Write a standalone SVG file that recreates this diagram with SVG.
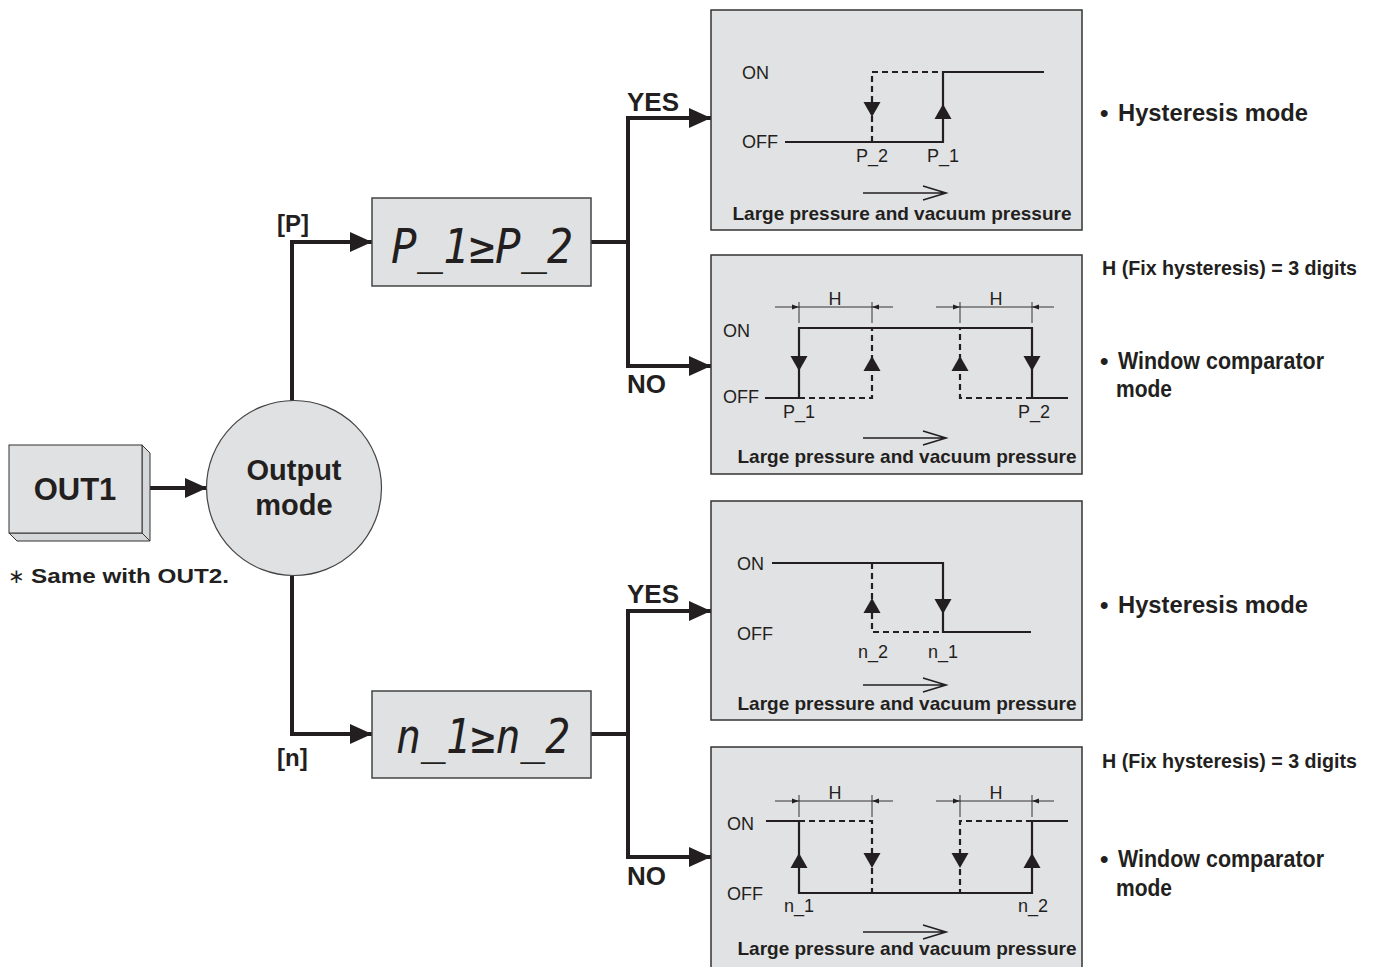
<svg xmlns="http://www.w3.org/2000/svg" width="1377" height="967" viewBox="0 0 1377 967">
<style>
text{font-family:"Liberation Sans",Arial,Helvetica,sans-serif;fill:#231f20}
.b{font-weight:bold}
.conn{fill:none;stroke:#231f20;stroke-width:4}
.panel{fill:#e1e2e4;stroke:#333;stroke-width:1.5}
.box{fill:#e0e1e3;stroke:#444;stroke-width:1.5}
.sig{fill:none;stroke:#231f20;stroke-width:2.2}
.dash{fill:none;stroke:#231f20;stroke-width:2.2;stroke-dasharray:6 4}
.dim{fill:none;stroke:#231f20;stroke-width:0.9}
.thin{fill:none;stroke:#231f20;stroke-width:1.6}
.tri{fill:#231f20}
.lbl{font-size:18px}
.mid{text-anchor:middle}
.cap{font-size:19px;font-weight:bold;text-anchor:middle}
.br{font-size:24px;font-weight:bold}
.side{font-size:24px;font-weight:bold}
.seg{font-family:"DejaVu Sans Mono",monospace;font-style:italic;font-size:48px;text-anchor:middle}
</style>
<defs>
<marker id="ah" markerUnits="userSpaceOnUse" markerWidth="22" markerHeight="20" refX="22" refY="10" orient="auto">
<path d="M0,0 L22,10 L0,20 z" fill="#231f20"/>
</marker>
<path id="triUp" d="M0,0 L8.5,15 L-8.5,15 z"/>
<path id="triDown" d="M0,0 L8.5,-15 L-8.5,-15 z"/>
<path id="dimR" d="M0,0 L-7,-2.5 L-7,2.5 z"/>
<path id="dimL" d="M0,0 L7,-2.5 L7,2.5 z"/>
</defs>

<!-- connectors -->
<g id="connectors">
<path class="conn" d="M150,488 L207,488" marker-end="url(#ah)"/>
<path class="conn" d="M292,401 L292,242 L372,242" marker-end="url(#ah)"/>
<path class="conn" d="M292,576 L292,734 L372,734" marker-end="url(#ah)"/>
<path class="conn" d="M591,242 L628,242"/>
<path class="conn" d="M628,366 L628,118 L711,118" marker-end="url(#ah)"/>
<path class="conn" d="M628,242 L628,366 L711,366" marker-end="url(#ah)"/>
<path class="conn" d="M591,734 L628,734"/>
<path class="conn" d="M628,857 L628,611 L711,611" marker-end="url(#ah)"/>
<path class="conn" d="M628,734 L628,857 L711,857" marker-end="url(#ah)"/>
</g>

<!-- OUT1 -->
<g id="out1">
<polygon points="142,445 150,453 150,541 142,533" fill="#d6d7d9" stroke="#333" stroke-width="1"/>
<polygon points="9,533 142,533 150,541 17,541" fill="#d6d7d9" stroke="#333" stroke-width="1"/>
<rect x="9" y="445" width="133" height="88" fill="#e0e1e3" stroke="#333" stroke-width="1"/>
<text x="75" y="500" class="b mid" font-size="31">OUT1</text>
</g>
<g id="note">
<text x="8" y="583" font-size="20">∗</text>
<text x="31" y="583" class="b" font-size="21" textLength="198" lengthAdjust="spacingAndGlyphs">Same with OUT2.</text>
</g>

<!-- Output mode -->
<g id="output-mode">
<circle cx="294" cy="488" r="87.5" fill="#e0e1e3" stroke="#444" stroke-width="1.2"/>
<text x="294" y="480" class="b mid" font-size="29">Output</text>
<text x="294" y="515" class="b mid" font-size="29">mode</text>
</g>

<g id="label-p"><text x="277" y="232" class="br">[P]</text></g>
<g id="label-n"><text x="277" y="766" class="br">[n]</text></g>
<g id="label-yes1"><text x="627" y="111" class="b" font-size="26">YES</text></g>
<g id="label-no1"><text x="627" y="393" class="b" font-size="26">NO</text></g>
<g id="label-yes2"><text x="627" y="603" class="b" font-size="26">YES</text></g>
<g id="label-no2"><text x="627" y="885" class="b" font-size="26">NO</text></g>

<!-- display P -->
<g id="disp-p">
<rect x="372" y="198" width="219" height="88" class="box"/>
<text x="482" y="263" class="seg" textLength="182" lengthAdjust="spacingAndGlyphs">P_1≥P_2</text>
</g>
<!-- display n -->
<g id="disp-n">
<rect x="372" y="691" width="219" height="87" class="box"/>
<text x="483" y="753" class="seg" textLength="174" lengthAdjust="spacingAndGlyphs">n_1≥n_2</text>
</g>

<!-- Panel 1: P hysteresis -->
<g id="panel1">
<rect x="711" y="10" width="371" height="220" class="panel"/>
<text x="742" y="79" class="lbl">ON</text>
<text x="742" y="148" class="lbl">OFF</text>
<path class="sig" d="M785,142 L943,142 L943,72 L1044,72"/>
<path class="dash" d="M872,142 L872,72 L943,72"/>
<use href="#triUp" x="943" y="104" class="tri"/>
<use href="#triDown" x="872" y="117" class="tri"/>
<text x="872" y="162" class="lbl mid">P_2</text>
<text x="943" y="162" class="lbl mid">P_1</text>
<path class="thin" d="M863,193 L946,193 M923,186 L946,193 L923,200"/>
<text x="902" y="220" class="cap">Large pressure and vacuum pressure</text>
</g>

<!-- Panel 2: P window -->
<g id="panel2">
<rect x="711" y="255" width="371" height="219" class="panel"/>
<text x="723" y="337" class="lbl">ON</text>
<text x="723" y="403" class="lbl">OFF</text>
<path class="sig" d="M765,398 L799,398 L799,328 L1032,328 L1032,398 L1068,398"/>
<path class="dash" d="M799,398 L872,398 L872,328"/>
<path class="dash" d="M1032,398 L960,398 L960,328"/>
<use href="#triDown" x="799" y="371" class="tri"/>
<use href="#triDown" x="1032" y="371" class="tri"/>
<use href="#triUp" x="872" y="356" class="tri"/>
<use href="#triUp" x="960" y="356" class="tri"/>
<path class="dim" d="M775,307 L893,307 M799,302 L799,323 M872,302 L872,323 M936,307 L1054,307 M960,302 L960,323 M1032,302 L1032,323"/>
<use href="#dimR" x="799" y="307" class="tri"/>
<use href="#dimL" x="872" y="307" class="tri"/>
<use href="#dimR" x="960" y="307" class="tri"/>
<use href="#dimL" x="1032" y="307" class="tri"/>
<text x="835" y="305" class="lbl mid">H</text>
<text x="996" y="305" class="lbl mid">H</text>
<text x="799" y="418" class="lbl mid">P_1</text>
<text x="1034" y="418" class="lbl mid">P_2</text>
<path class="thin" d="M863,438 L946,438 M923,431 L946,438 L923,445"/>
<text x="907" y="463" class="cap">Large pressure and vacuum pressure</text>
</g>

<!-- Panel 3: n hysteresis -->
<g id="panel3">
<rect x="711" y="501" width="371" height="219" class="panel"/>
<text x="737" y="570" class="lbl">ON</text>
<text x="737" y="640" class="lbl">OFF</text>
<path class="sig" d="M772,563 L943,563 L943,632 L1031,632"/>
<path class="dash" d="M872,563 L872,632 L943,632"/>
<use href="#triDown" x="943" y="614" class="tri"/>
<use href="#triUp" x="872" y="598" class="tri"/>
<text x="873" y="658" class="lbl mid">n_2</text>
<text x="943" y="658" class="lbl mid">n_1</text>
<path class="thin" d="M863,685 L946,685 M923,678 L946,685 L923,692"/>
<text x="907" y="710" class="cap">Large pressure and vacuum pressure</text>
</g>

<!-- Panel 4: n window -->
<g id="panel4">
<rect x="711" y="747" width="371" height="222" class="panel"/>
<text x="727" y="830" class="lbl">ON</text>
<text x="727" y="900" class="lbl">OFF</text>
<path class="sig" d="M766,821 L799,821 L799,893 L1032,893 L1032,821 L1068,821"/>
<path class="dash" d="M799,821 L872,821 L872,893"/>
<path class="dash" d="M1032,821 L960,821 L960,893"/>
<use href="#triUp" x="799" y="853" class="tri"/>
<use href="#triUp" x="1032" y="853" class="tri"/>
<use href="#triDown" x="872" y="868" class="tri"/>
<use href="#triDown" x="960" y="868" class="tri"/>
<path class="dim" d="M775,801 L893,801 M799,795 L799,817 M872,795 L872,817 M936,801 L1054,801 M960,795 L960,817 M1032,795 L1032,817"/>
<use href="#dimR" x="799" y="801" class="tri"/>
<use href="#dimL" x="872" y="801" class="tri"/>
<use href="#dimR" x="960" y="801" class="tri"/>
<use href="#dimL" x="1032" y="801" class="tri"/>
<text x="835" y="799" class="lbl mid">H</text>
<text x="996" y="799" class="lbl mid">H</text>
<text x="799" y="912" class="lbl mid">n_1</text>
<text x="1033" y="912" class="lbl mid">n_2</text>
<path class="thin" d="M863,932 L946,932 M923,925 L946,932 L923,939"/>
<text x="907" y="955" class="cap">Large pressure and vacuum pressure</text>
</g>

<!-- side labels -->
<g id="side-labels">
<text x="1100" y="121" class="side">•</text>
<text x="1118" y="121" class="side" textLength="190" lengthAdjust="spacingAndGlyphs">Hysteresis mode</text>
<text x="1102" y="275" class="b" font-size="21" textLength="255" lengthAdjust="spacingAndGlyphs">H (Fix hysteresis) = 3 digits</text>
<text x="1100" y="369" class="side">•</text>
<text x="1118" y="369" class="side" textLength="206" lengthAdjust="spacingAndGlyphs">Window comparator</text>
<text x="1116" y="397" class="side" textLength="56" lengthAdjust="spacingAndGlyphs">mode</text>
<text x="1100" y="613" class="side">•</text>
<text x="1118" y="613" class="side" textLength="190" lengthAdjust="spacingAndGlyphs">Hysteresis mode</text>
<text x="1102" y="768" class="b" font-size="21" textLength="255" lengthAdjust="spacingAndGlyphs">H (Fix hysteresis) = 3 digits</text>
<text x="1100" y="867" class="side">•</text>
<text x="1118" y="867" class="side" textLength="206" lengthAdjust="spacingAndGlyphs">Window comparator</text>
<text x="1116" y="896" class="side" textLength="56" lengthAdjust="spacingAndGlyphs">mode</text>
</g>
</svg>
